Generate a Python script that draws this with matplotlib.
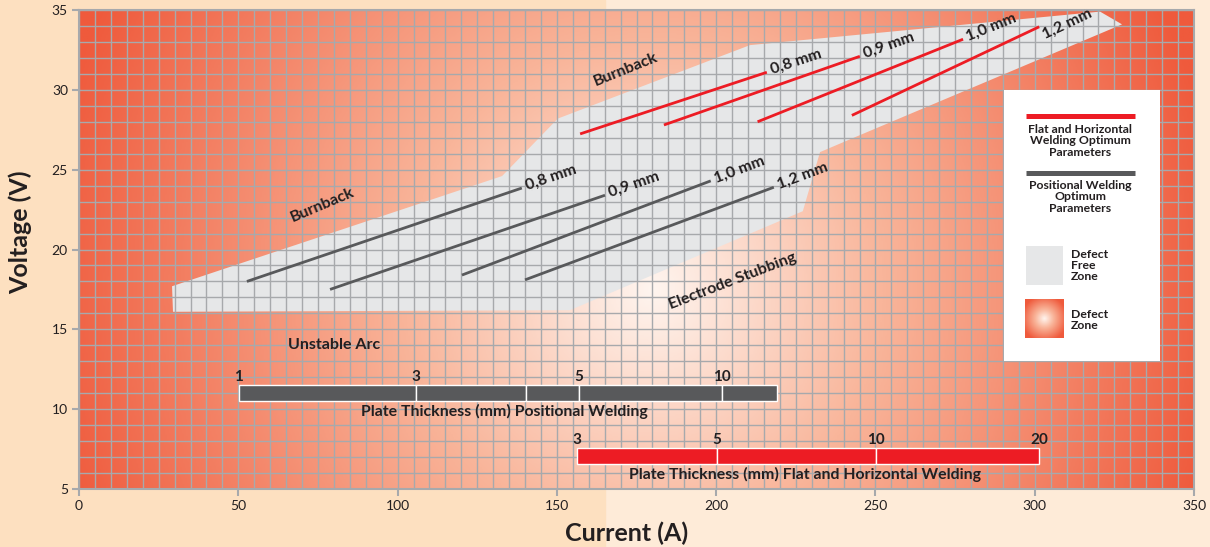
import numpy as np
import matplotlib
matplotlib.use("Agg")
import matplotlib.pyplot as plt
from matplotlib.colors import LinearSegmentedColormap
from matplotlib.patches import Polygon, Rectangle

plt.rcParams['font.family'] = ['Lato', 'DejaVu Sans']

RED = '#ED1C24'
DARK = '#58595B'
TXT = '#231F20'
GRID = '#A7A9AC'
FREE = '#E6E7E8'

# defect free zone outline (current A, voltage V)
zone_x = [29.2, 132.8, 150.3, 210.6, 320.5, 327.4, 242.0, 232.6, 227.2, 154.1, 29.5]
zone_y = [17.7, 24.6, 28.2, 32.8, 34.9, 34.1, 26.9, 26.1, 22.4, 16.2, 16.1]

# wire diameters
wires = ['0,8 mm', '0,9 mm', '1,0 mm', '1,2 mm']

# positional welding optimum lines (start/end)
pos_x0 = [52.7, 78.8, 120.2, 140.0]
pos_y0 = [18.0, 17.5, 18.4, 18.1]
pos_x1 = [139.0, 165.1, 198.3, 218.1]
pos_y1 = [23.85, 23.4, 24.3, 23.9]

# flat and horizontal welding optimum lines
flat_x0 = [157.3, 183.6, 213.0, 242.6]
flat_y0 = [27.24, 27.8, 28.0, 28.4]
flat_x1 = [215.9, 245.1, 277.5, 301.4]
flat_y1 = [31.1, 32.1, 33.17, 33.95]

# plate thickness scales
pos_edges = [50.2, 105.8, 140.3, 156.9, 201.8, 219.1]
pos_thick = ['1', '3', '', '5', '10', '']
flat_edges = [156.4, 200.3, 250.2, 301.4]
flat_thick = ['3', '5', '10', '20']


def shade(x, y, cx=180.0, cy=17.5, rad=620.0):
    # radial shading, measured in screen pixels (a bit tighter on the right)
    dx = (x - cx) * 3.186
    dx = np.where(dx > 0, dx * 1.08, dx)
    dy = (y - cy) * 15.97
    return np.clip(np.sqrt(dx ** 2 + dy ** 2) / rad, 0, 1)


cmap = LinearSegmentedColormap.from_list(
    'defect', [(0, '#FFF5EF'), (0.4, '#F9B59A'), (1.0, '#EF5A3C')])

fig = plt.figure(figsize=(12.1, 5.47), dpi=100, facecolor='#FEEBD8')
fig.patches.append(Rectangle((0, 0), 0.5, 1, transform=fig.transFigure,
                             color='#FDE0C0', zorder=-10))
ax = fig.add_axes([0.0653, 0.106, 0.9215, 0.8757])

gx, gy = np.meshgrid(np.linspace(0, 350, 700), np.linspace(5, 35, 300))
ax.imshow(shade(gx, gy), extent=(0, 350, 5, 35), origin='lower', cmap=cmap,
          vmin=0, vmax=1, aspect='auto', zorder=0, interpolation='bilinear')

ax.add_patch(Polygon(np.column_stack([zone_x, zone_y]), closed=True,
                     facecolor=FREE, edgecolor='none', zorder=1))

ax.set_xlim(0, 350)
ax.set_ylim(5, 35)
ax.set_xticks(np.arange(0, 351, 50))
ax.set_yticks(np.arange(5, 36, 5))
ax.set_xticks(np.arange(0, 351, 5), minor=True)
ax.set_yticks(np.arange(5, 36, 1), minor=True)
ax.grid(which='both', color=GRID, lw=1.0)
ax.tick_params(which='minor', length=0)
ax.tick_params(which='major', length=5, width=1.5, color=GRID,
               labelsize=10, labelcolor=TXT, pad=3)
for s in ax.spines.values():
    s.set_color(GRID)
    s.set_linewidth(1.5)


def angle(x0, y0, x1, y1):
    p0 = ax.transData.transform((x0, y0))
    p1 = ax.transData.transform((x1, y1))
    return np.degrees(np.arctan2(p1[1] - p0[1], p1[0] - p0[0]))


for xs0, ys0, xs1, ys1, col, drops in [
        (pos_x0, pos_y0, pos_x1, pos_y1, DARK, [2.5, 2.5, 2.5, 2.5]),
        (flat_x0, flat_y0, flat_x1, flat_y1, RED, [2.5, 2.5, 2.5, 10.0])]:
    for i in range(len(wires)):
        ax.plot([xs0[i], xs1[i]], [ys0[i], ys1[i]], color=col, lw=2.0,
                zorder=2, solid_capstyle='butt')
        a = np.radians(angle(xs0[i], ys0[i], xs1[i], ys1[i]))
        along = 3 if drops[i] < 5 else 0
        off = (along * np.cos(a) + drops[i] * np.sin(a),
               along * np.sin(a) - drops[i] * np.cos(a))
        ax.annotate(wires[i], (xs1[i], ys1[i]), xytext=off,
                    textcoords='offset points', rotation=np.degrees(a),
                    rotation_mode='anchor', ha='left', va='baseline',
                    fontsize=11.5, fontweight='bold', color=TXT, zorder=3)

# zone labels
ax.text(171.7, 31.24, 'Burnback', rotation=22, ha='center', va='center',
        fontsize=11.5, fontweight='bold', color=TXT)
ax.text(76.3, 22.8, 'Burnback', rotation=23, ha='center', va='center',
        fontsize=11.5, fontweight='bold', color=TXT)
ax.text(205.3, 18.03, 'Electrode Stubbing', rotation=21, ha='center',
        va='center', fontsize=11.5, fontweight='bold', color=TXT)
ax.text(80.0, 14.0, 'Unstable Arc', ha='center', va='center',
        fontsize=11.5, fontweight='bold', color=TXT)

# plate thickness bars
for edges, labels, col, y0, cap in [
        (pos_edges, pos_thick, DARK, 10.52,
         'Plate Thickness (mm) Positional Welding'),
        (flat_edges, flat_thick, RED, 6.57,
         'Plate Thickness (mm) Flat and Horizontal Welding')]:
    for i in range(len(edges) - 1):
        ax.add_patch(Rectangle((edges[i], y0), edges[i + 1] - edges[i], 1.0,
                               facecolor=col, edgecolor='white', lw=1.0,
                               zorder=3))
    for e, lab in zip(edges, labels):
        ax.text(e, y0 + 1.05, lab, ha='center', va='bottom', fontsize=11,
                fontweight='bold', color=TXT, zorder=3)
    ax.text((edges[0] + edges[-1]) / 2 - 1, y0 - 0.68, cap, ha='center',
            va='center', fontsize=11.4, fontweight='bold', color=TXT, zorder=3)

# legend box
LEG = dict(fontsize=8.8, fontweight='bold', color=TXT, linespacing=1.02,
           zorder=5)
ax.add_patch(Rectangle((290.3, 13.0), 49.0, 17.0, facecolor='white',
                       edgecolor='none', zorder=4))
ax.plot([297.2, 331.4], [28.36, 28.36], color=RED, lw=3.6, zorder=5,
        solid_capstyle='butt')
ax.text(314.3, 26.8, 'Flat and Horizontal\nWelding Optimum\nParameters',
        ha='center', va='center', **LEG)
ax.plot([297.2, 331.4], [24.8, 24.8], color=DARK, lw=3.6, zorder=5,
        solid_capstyle='butt')
ax.text(314.3, 23.3, 'Positional Welding\nOptimum\nParameters',
        ha='center', va='center', **LEG)
ax.add_patch(Rectangle((297.2, 17.78), 11.7, 2.44, facecolor=FREE,
                       edgecolor='none', zorder=5))
ax.text(311.4, 19.0, 'Defect\nFree\nZone', ha='left', va='center', **LEG)
sx, sy = np.meshgrid(np.linspace(-1, 1, 60), np.linspace(-1, 1, 60))
ax.imshow(np.clip(np.sqrt(sx ** 2 + sy ** 2) / 1.2, 0, 1),
          extent=(296.9, 308.9, 14.46, 16.84), cmap=cmap, vmin=0, vmax=1,
          aspect='auto', zorder=5)
ax.text(311.4, 15.6, 'Defect\nZone', ha='left', va='center', **LEG)

ax.set_xlim(0, 350)
ax.set_ylim(5, 35)

ax.text(0.491, -0.092, 'Current (A)', transform=ax.transAxes, ha='center',
        va='center', fontsize=18, fontweight='bold', color=TXT)
ax.text(-0.053, 0.537, 'Voltage (V)', transform=ax.transAxes, ha='center',
        va='center', rotation=90, fontsize=18, fontweight='bold', color=TXT)

fig.savefig('out.png', dpi=100, facecolor=fig.get_facecolor())
